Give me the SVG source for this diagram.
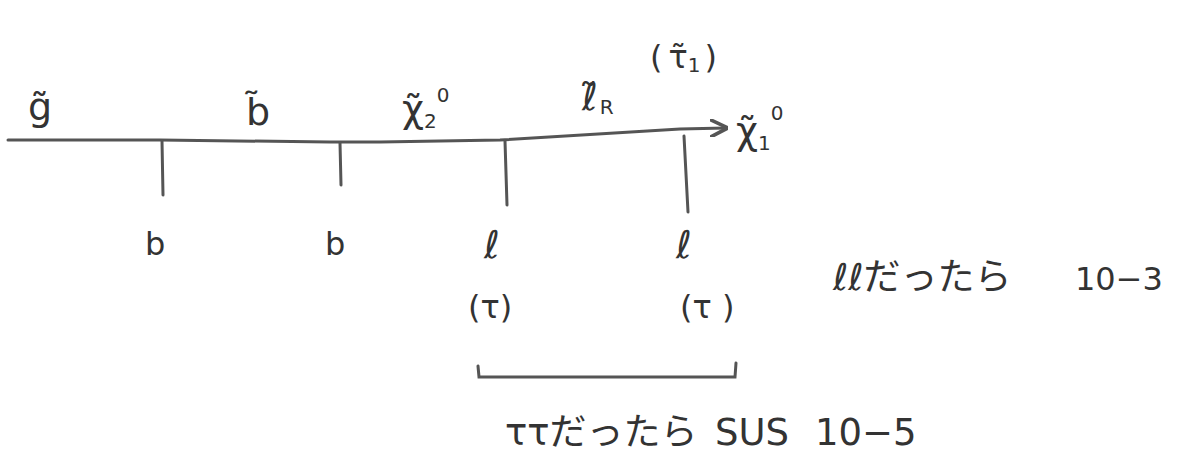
<svg xmlns="http://www.w3.org/2000/svg" width="1183" height="452" viewBox="0 0 1183 452">
<style>
  .t{font-family:"DejaVu Sans","Noto Sans CJK JP",sans-serif;fill:#333;}
  .big{font-size:38px;}
  .mid{font-size:32px;}
  .note{font-size:37px;}
  .sub{font-size:20px;}
  .ln{stroke:#555;stroke-width:3;fill:none;stroke-linecap:round;}
</style>
<defs>
  <marker id="ah" viewBox="0 0 10 10" refX="9" refY="5" markerWidth="6" markerHeight="6" orient="auto" markerUnits="strokeWidth">
    <path d="M0,0 L10,5 L0,10" fill="none" stroke="#555" stroke-width="2"/>
  </marker>
</defs>
<rect width="1183" height="452" fill="#fff"/>
<g id="connectors">
  <path class="ln" d="M8,140 L160,140 L330,142 L380,142 L500,140 L680,129 L726,128" marker-end="url(#ah)"/>
  <line class="ln" x1="162" y1="141" x2="163" y2="195"/>
  <line class="ln" x1="340" y1="143" x2="341" y2="185"/>
  <line class="ln" x1="505" y1="141" x2="507" y2="205"/>
  <line class="ln" x1="684" y1="136" x2="688" y2="212"/>
  <path class="ln" d="M478,366 L479,377 L735,377 L736,363"/>
</g>
<g id="gluino">
  <text class="t big" x="28" y="120">g̃</text>
</g>
<g id="sbottom">
  <text class="t big" x="246" y="125">b̃</text>
</g>
<g id="neutralino2">
  <text class="t big" x="402" y="122">χ̃<tspan class="sub" dy="6">2</tspan><tspan class="sub" dy="-26">0</tspan></text>
</g>
<g id="slepton">
  <text class="t big" x="582" y="110">ℓ̃<tspan class="sub" dx="2" dy="4">R</tspan></text>
  <text class="t mid" x="650" y="68" font-size="35">(<tspan dx="6">τ̃</tspan><tspan font-size="20" dy="4">1</tspan><tspan dx="4" dy="-4">)</tspan></text>
</g>
<g id="neutralino1">
  <text class="t big" x="736" y="144">χ̃<tspan class="sub" dy="6">1</tspan><tspan class="sub" dy="-30">0</tspan></text>
</g>
<g id="b1"><text class="t mid" x="145" y="255">b</text></g>
<g id="b2"><text class="t mid" x="325" y="255">b</text></g>
<g id="l1">
  <text class="t big" x="484" y="258">ℓ</text>
  <text class="t mid" x="468" y="318">(τ)</text>
</g>
<g id="l2">
  <text class="t big" x="676" y="258">ℓ</text>
  <text class="t mid" x="680" y="318">(τ )</text>
</g>
<g id="note-ll">
  <text class="t note" x="833" y="290">ℓℓだったら</text>
  <text class="t mid" x="1075" y="290">10−3</text>
</g>
<g id="note-tt">
  <text class="t note" x="505" y="445">ττだったら<tspan x="715">SUS</tspan><tspan x="815">10−5</tspan></text>
</g>
</svg>
